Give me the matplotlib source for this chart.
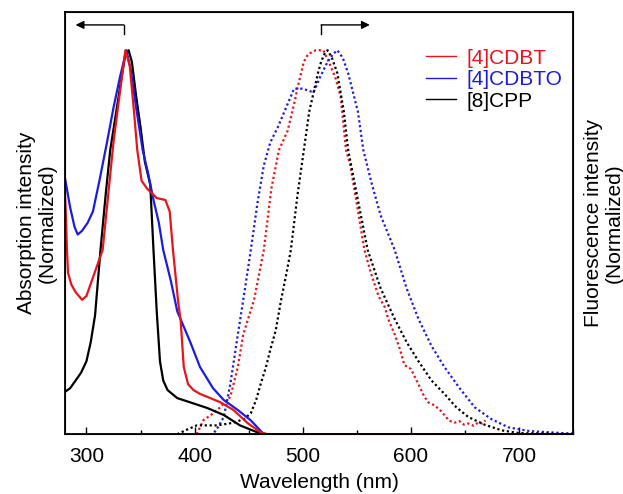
import numpy as np
import matplotlib.pyplot as plt
from matplotlib.ticker import MultipleLocator

plt.rcParams['font.family'] = ['Liberation Sans', 'DejaVu Sans']

RED = '#e8141c'
BLUE = '#1c1ce0'
BLACK = '#000000'

# absorption spectra (normalized)
abs_cdbt_wl = [280, 281, 282, 283, 286, 290, 296, 300, 305, 310, 315, 320, 325, 330, 336,
               340, 344, 347, 351, 356, 365, 373, 377, 380, 385, 387, 390, 394, 399, 405,
               412, 424, 436, 449, 461, 467, 500, 750]
abs_cdbt = [0.64, 0.57, 0.48, 0.42, 0.39, 0.37, 0.35, 0.36, 0.40, 0.44, 0.48, 0.62, 0.76, 0.87, 1.0,
            0.96, 0.84, 0.74, 0.66, 0.64, 0.615, 0.61, 0.58, 0.48, 0.34, 0.30, 0.175, 0.13, 0.115, 0.105,
            0.097, 0.083, 0.063, 0.029, 0.005, 0.0, 0.0, 0.0]

abs_cdbto_wl = [280, 285, 289, 292, 296, 301, 306, 312, 319, 325, 331, 337, 341, 346, 352,
                357, 362, 367, 371, 378, 384, 390, 396, 405, 417, 427, 440, 452, 464, 500, 750]
abs_cdbto = [0.67, 0.59, 0.54, 0.52, 0.53, 0.55, 0.58, 0.66, 0.76, 0.85, 0.93, 1.0, 0.95, 0.85, 0.74,
             0.68, 0.61, 0.55, 0.48, 0.40, 0.32, 0.28, 0.24, 0.175, 0.12, 0.089, 0.063, 0.036, 0.0, 0.0, 0.0]

abs_cpp_wl = [280, 285, 290, 295, 300, 304, 308, 313, 318, 322, 327, 332, 336, 339, 342,
              346, 350, 354, 359, 362, 365, 368, 371, 375, 384, 396, 412, 427, 442, 458, 467, 750]
abs_cpp = [0.11, 0.12, 0.14, 0.16, 0.19, 0.24, 0.31, 0.48, 0.63, 0.74, 0.83, 0.92, 0.99, 1.0, 0.97,
           0.88, 0.80, 0.71, 0.65, 0.48, 0.32, 0.19, 0.14, 0.115, 0.094, 0.083, 0.068, 0.05, 0.023, 0.005, 0.0, 0.0]

# fluorescence spectra (normalized)
fl_cdbt_wl = [402, 408, 415, 421, 427, 433, 440, 445, 455, 464, 471, 478, 486, 492, 495, 501,
              505, 512, 519, 524, 530, 535, 540, 544, 550, 557, 563, 570, 576, 579, 585, 590, 594,
              600, 607, 612, 616, 622, 628, 635, 640, 645, 649, 653, 658, 662, 666, 669]
fl_cdbt = [0.0, 0.036, 0.05, 0.063, 0.08, 0.097, 0.175, 0.26, 0.35, 0.48, 0.64, 0.74, 0.79, 0.86, 0.90, 0.97,
           0.99, 1.0, 1.0, 0.97, 0.93, 0.88, 0.74, 0.70, 0.60, 0.48, 0.42, 0.36, 0.33, 0.30, 0.26, 0.22, 0.18,
           0.17, 0.13, 0.10, 0.083, 0.075, 0.06, 0.036, 0.03, 0.034, 0.025, 0.028, 0.022, 0.03, 0.028, 0.036]

fl_cdbto_wl = [410, 417, 422, 427, 433, 440, 445, 452, 458, 464, 470, 477, 483, 489, 492, 500,
               510, 516, 523, 528, 532, 537, 542, 551, 556, 564, 572, 585, 596, 607, 619, 631,
               645, 659, 674, 690, 710, 740, 750]
fl_cdbto = [0.0, 0.0, 0.02, 0.045, 0.13, 0.26, 0.35, 0.48, 0.60, 0.70, 0.76, 0.80, 0.84, 0.88, 0.90, 0.90,
            0.89, 0.93, 0.97, 0.99, 1.0, 0.98, 0.94, 0.84, 0.74, 0.65, 0.57, 0.48, 0.38, 0.30, 0.23, 0.175,
            0.12, 0.07, 0.04, 0.018, 0.008, 0.003, 0.002]

fl_cpp_wl = [384, 393, 402, 412, 421, 436, 446, 452, 457, 461, 466, 470, 475, 480, 485, 489,
             495, 501, 506, 510, 514, 517, 520, 523, 527, 532, 538, 542, 551, 560, 572, 585,
             596, 607, 619, 631, 642, 653, 668, 684, 700, 750]
fl_cpp = [0.0, 0.012, 0.023, 0.023, 0.023, 0.03, 0.04, 0.055, 0.09, 0.13, 0.175, 0.22, 0.27, 0.35, 0.42, 0.48,
          0.62, 0.74, 0.84, 0.89, 0.94, 0.97, 0.99, 1.0, 0.98, 0.94, 0.84, 0.74, 0.61, 0.48, 0.38, 0.30,
          0.24, 0.19, 0.14, 0.105, 0.07, 0.045, 0.025, 0.01, 0.003, 0.0]

labels = ['[4]CDBT', '[4]CDBTO', '[8]CPP']
colors = [RED, BLUE, BLACK]

fig = plt.figure(figsize=(6.23, 4.94), dpi=100)
ax = fig.add_axes([0.104, 0.121, 0.816, 0.855])

abs_sets = [(abs_cdbt_wl, abs_cdbt), (abs_cdbto_wl, abs_cdbto), (abs_cpp_wl, abs_cpp)]
fl_sets = [(fl_cdbt_wl, fl_cdbt), (fl_cdbto_wl, fl_cdbto), (fl_cpp_wl, fl_cpp)]

for (wl, val), c in zip(fl_sets, colors):
    ax.plot(wl, val, color=c, lw=1.6, linestyle=(0, (1, 1.2)))
for (wl, val), c in zip(abs_sets[::-1], colors[::-1]):
    ax.plot(wl, val, color=c, lw=1.6)

# legend handles
for lab, c in zip(labels, colors):
    ax.plot([], [], color=c, lw=1.0, label=lab)
handles, labs = ax.get_legend_handles_labels()
leg = ax.legend(handles[-3:], labs[-3:], loc='upper left', bbox_to_anchor=(0.71, 0.913),
                frameon=False, fontsize=15, handlelength=1.45, handletextpad=0.5,
                labelspacing=0.12, borderaxespad=0, borderpad=0)
for t, c in zip(leg.get_texts(), colors):
    t.set_color(c)

# direction arrows
ax.annotate('', xy=(290, 1.066), xytext=(334.5, 1.066),
            arrowprops=dict(arrowstyle='-|>', color='black', lw=1.0, mutation_scale=12,
                            shrinkA=0, shrinkB=0))
ax.plot([334.5, 334.5], [1.066, 1.043], color='black', lw=1.0)
ax.annotate('', xy=(562, 1.066), xytext=(517, 1.066),
            arrowprops=dict(arrowstyle='-|>', color='black', lw=1.0, mutation_scale=12,
                            shrinkA=0, shrinkB=0))
ax.plot([517, 517], [1.066, 1.043], color='black', lw=1.0)

ax.set_xlim(280, 750)
ax.set_ylim(0, 1.1)
ax.xaxis.set_major_locator(MultipleLocator(100))
ax.xaxis.set_minor_locator(MultipleLocator(50))
ax.tick_params(axis='x', which='major', direction='in', length=5, width=1.0, labelsize=15, pad=9)
ax.tick_params(axis='x', which='minor', direction='in', length=3, width=1.0)
ax.set_yticks([])
for s in ax.spines.values():
    s.set_linewidth(1.3)

ax.set_xlabel('Wavelength (nm)', fontsize=15, labelpad=5)
ax.set_ylabel('Absorption intensity\n(Normalized)', fontsize=15, labelpad=6, linespacing=1.1)
ax2 = ax.twinx()
ax2.set_yticks([])
ax2.set_ylabel('Fluorescence intensity\n(Normalized)', fontsize=15, rotation=90,
               labelpad=8, linespacing=1.1)

fig.savefig('out.png', dpi=100)
